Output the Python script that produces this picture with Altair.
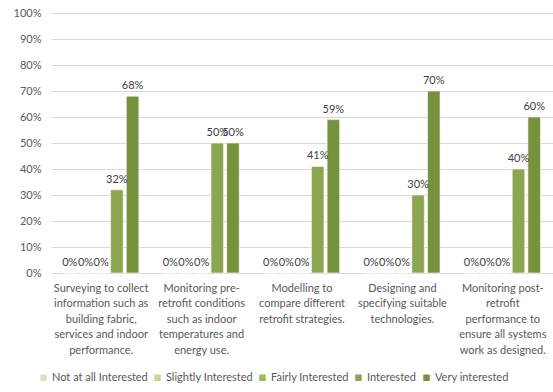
import altair as alt
import pandas as pd

task_lines = [
    ["Surveying to collect", "information such as", "building fabric,", "services and indoor", "performance."],
    ["Monitoring pre-", "retrofit conditions", "such as indoor", "temperatures and", "energy use."],
    ["Modelling to", "compare different", "retrofit strategies."],
    ["Designing and", "specifying suitable", "technologies."],
    ["Monitoring post-", "retrofit", "performance to", "ensure all systems", "work as designed."],
]
series = ["Not at all Interested", "Slightly Interested", "Fairly Interested", "Interested", "Very interested"]
not_at_all = [0.0, 0.0, 0.0, 0.0, 0.0]
slightly = [0.0, 0.0, 0.0, 0.0, 0.0]
fairly = [0.0, 0.0, 0.0, 0.0, 0.0]
interested = [0.32, 0.50, 0.41, 0.30, 0.40]
very_interested = [0.68, 0.50, 0.59, 0.70, 0.60]
colors = ["#D7E4BD", "#C3D69B", "#9BBB59", "#8CA650", "#76923C"]
y_ticks = [0, 0.1, 0.2, 0.3, 0.4, 0.5, 0.6, 0.7, 0.8, 0.9, 1.0]

tasks = ["\n".join(l) for l in task_lines]
values = [not_at_all, slightly, fairly, interested, very_interested]
rows = []
for s, vals in zip(series, values):
    for t, v in zip(tasks, vals):
        rows.append({"task": t, "series": s, "value": v})
df = pd.DataFrame(rows)

FONT = "Lato"

x = alt.X("task:N", sort=tasks, title=None,
          scale=alt.Scale(paddingInner=0.25, paddingOuter=0.125),
          axis=alt.Axis(labelAngle=0, labelExpr="split(datum.label, '\\n')",
                        labelFontSize=11, labelColor="#595959", labelFont=FONT,
                        labelLineHeight=15.5, labelBaseline="top", labelPadding=9,
                        domain=False, ticks=False, grid=False, labelLimit=200))
xoff = alt.XOffset("series:N", sort=series, scale=alt.Scale(paddingInner=0.2, paddingOuter=0))
y = alt.Y("value:Q", title=None,
          scale=alt.Scale(domain=[0, 1], nice=False),
          axis=alt.Axis(values=y_ticks, format=".0%", labelFontSize=11, labelColor="#595959",
                        labelFont=FONT, domain=False, ticks=False, labelPadding=10,
                        gridColor="#D9D9D9", gridWidth=1))
color = alt.Color("series:N", sort=series, scale=alt.Scale(domain=series, range=colors),
                  legend=alt.Legend(title=None, orient="none", legendX=-13, legendY=359,
                                    direction="horizontal", columns=5, symbolType="square",
                                    symbolSize=42, symbolStrokeWidth=0, labelFontSize=11,
                                    labelFont=FONT, labelColor="#595959", columnPadding=4,
                                    labelOffset=3, padding=0))

bars = alt.Chart(df).mark_bar(stroke="#ffffff", strokeWidth=0.6).encode(
    x=x, xOffset=xoff, y=y, color=color)
labels = alt.Chart(df).mark_text(baseline="bottom", dy=-5, fontSize=11, font=FONT,
                                 color="#404040").encode(
    x=x, xOffset=xoff, y=y, text=alt.Text("value:Q", format=".0%"))

chart = alt.layer(bars, labels).properties(
    width=502, height=260,
    autosize=alt.AutoSizeParams(type="none"),
    padding={"left": 51, "top": 13, "right": 0, "bottom": 119},
    background="#ffffff",
).configure_view(stroke=None)

chart.save("out.html", embed_options={"renderer": "svg", "actions": False})
